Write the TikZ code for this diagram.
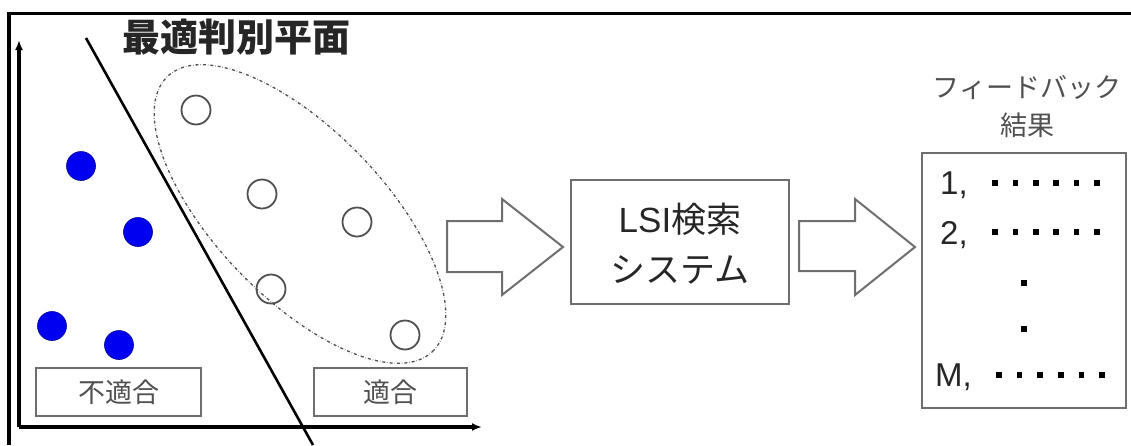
\documentclass[tikz,border=0pt]{standalone}
\usepackage{fontspec}
\setmainfont{Liberation Sans}
\newfontfamily\jp{Noto Sans CJK JP}
\usetikzlibrary{shapes.geometric,arrows.meta}
\definecolor{frame}{HTML}{6E6E6E}
\definecolor{graytext}{HTML}{505050}
\definecolor{dotblue}{HTML}{0000F0}
\tikzset{
  axis/.style={line width=3.2pt,-{Latex[length=10pt,width=8pt]}},
  reddot/.style={circle,fill=dotblue,draw=dotblue!60!black,line width=0.6pt,minimum size=29pt,inner sep=0pt},
  opendot/.style={circle,draw=graytext,line width=1.8pt,minimum size=29pt,inner sep=0pt},
  labelbox/.style={draw=frame,line width=2.2pt,inner sep=0pt,text=graytext,font=\fontsize{27}{30}\selectfont\jp},
  mainbox/.style={draw=frame,line width=2.2pt,inner sep=0pt},
  blockarrow/.style={draw=frame,line width=2pt,fill=white,line join=miter},
  sq/.style={fill=black,minimum size=5.5pt,inner sep=0pt},
  itemtext/.style={anchor=west,font=\fontsize{33}{34}\selectfont,inner sep=0pt,text=black!85},
}
\begin{document}
\begin{tikzpicture}[x=1pt,y=-1pt]
\useasboundingbox (0,0) rectangle (1131,445);
% outer frame (cropped)
\draw[line width=3.4pt] (9,445) -- (9,13.5) -- (1131,13.5);
% axes
\coordinate (o) at (19,427);
\coordinate (ytop) at (19,40);
\coordinate (xend) at (482,427);
\draw[axis] (o) -- (ytop);
\draw[axis] (o) -- (xend);
% separating plane
\coordinate (p1) at (86,38);
\coordinate (p2) at (313,445);
\draw[line width=2.6pt] (p1) -- (p2);
\node[font=\fontsize{38}{40}\selectfont\jp\bfseries,text=black!85,inner sep=0pt] (title) at (236,37) {最適判別平面};
% relevant group ellipse
\node[ellipse,draw=graytext,dash dot,line width=1.3pt,minimum width=382pt,minimum height=168pt,inner sep=0pt,rotate=-46] (grp) at (300,214) {};
% blue dots
\node[reddot] (b1) at (81,166) {};
\node[reddot] (b2) at (138,232) {};
\node[reddot] (b3) at (52,326) {};
\node[reddot] (b4) at (119,345) {};
% open circles
\node[opendot] (w1) at (196,110) {};
\node[opendot] (w2) at (262,194) {};
\node[opendot] (w3) at (357,222) {};
\node[opendot] (w4) at (271,289) {};
\node[opendot] (w5) at (405,335) {};
% labels
\node[labelbox,minimum width=165pt,minimum height=48pt] (neg) at (118.5,392) {不適合};
\node[labelbox,minimum width=153pt,minimum height=48pt] (pos) at (390.5,392) {適合};
% LSI box
\node[mainbox,minimum width=218pt,minimum height=124pt] (lsi) at (680,242) {};
\node[font=\fontsize{35}{52}\selectfont,text=black!85,align=center,inner sep=0pt] (lsitext) at (680,244) {LSI{\jp 検索}\\[-2pt]{\jp システム}};
% result box
\node[mainbox,minimum width=204pt,minimum height=255pt] (res) at (1024,280.5) {};
\node[font=\fontsize{27}{38}\selectfont\jp,text=graytext,align=center,inner sep=0pt] (restitle) at (1027,107) {フィードバック\\結果};
% block arrows
\draw[blockarrow] (447,221) -- (502,221) -- (502,199) -- (563,247) -- (502,295) -- (502,272) -- (447,272) -- cycle;
\draw[blockarrow] (799,221) -- (855,221) -- (855,199) -- (915,247) -- (855,295) -- (855,271) -- (799,271) -- cycle;
% result items
\node[itemtext] (i1) at (940,185) {1,};
\node[itemtext] (i2) at (940,235) {2,};
\node[itemtext] (iM) at (935,377) {M,};
\foreach \k in {0,...,5} {
  \node[sq] at (995+20.4*\k,183) {};
  \node[sq] at (995+20.4*\k,232) {};
  \node[sq] at (999+20.6*\k,375) {};
}
\node[sq] (v1) at (1024,283) {};
\node[sq] (v2) at (1024,329) {};
\end{tikzpicture}
\end{document}
